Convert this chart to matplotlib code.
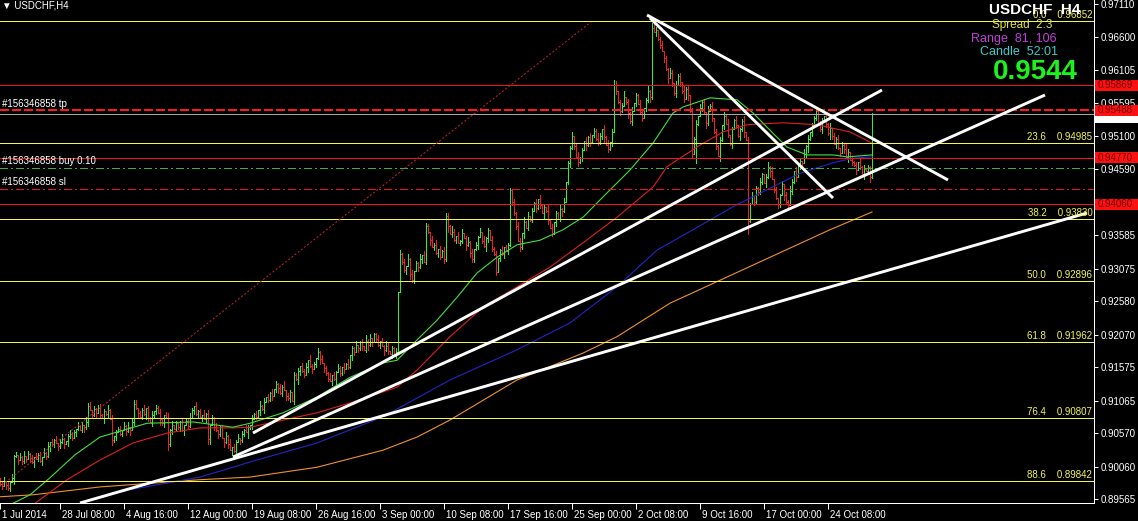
import matplotlib
matplotlib.use("Agg")
import matplotlib.pyplot as plt
from matplotlib.collections import LineCollection
from matplotlib.patches import Rectangle
from matplotlib import transforms

plt.rcParams["font.family"] = ["Liberation Sans", "DejaVu Sans"]

# ---- price data (pips above 0.9000), one H4 bar per value -------------------
BASE = 0.9
PIP = 0.0001
OPEN0 = -15
CLOSE = [
    -20, -24, -16, -22, -27, -18,
    -12, 22, 24, 16, 20, 14,
    22, 17, 25, 19, 13, 21,
    18, 24, 15, 20, 26, 22,
    38, 44, 40, 46, 42, 38,
    44, 48, 41, 45, 52, 56,
    50, 58, 64, 68, 62, 70,
    66, 74, 98, 92, 85, 94,
    88, 96, 84, 80, 90, 86,
    92, 78, 46, 52, 58, 64,
    56, 62, 68, 60, 66, 62,
    74, 102, 96, 88, 82, 92,
    86, 95, 80, 74, 84, 90,
    96, 88, 78, 72, 85, 80,
    40, 62, 70, 64, 72, 66,
    74, 62, 70, 76, 68, 80,
    92, 98, 86, 90, 82, 84,
    78, 86, 48, 70, 80, 66,
    62, 56, 66, 50, 44, 52,
    40, 32, 36, 30, 44, 50,
    46, 56, 62, 58, 66, 70,
    78, 86, 82, 92, 98, 94,
    104, 112, 108, 118, 114, 124,
    132, 126, 118, 128, 122, 114,
    110, 120, 106, 146, 140, 152,
    160, 152, 146, 158, 168, 160,
    154, 162, 172, 180, 170, 164,
    156, 148, 140, 136, 146, 140,
    150, 156, 148, 158, 154, 162,
    158, 176, 186, 180, 192, 186,
    196, 190, 184, 198, 192, 202,
    196, 208, 200, 192, 198, 190,
    184, 190, 182, 178, 186, 176,
    180, 272,
    330, 318, 305, 312, 322, 300,
    290, 304, 316, 310, 322, 328,
    318, 372, 364, 352, 340, 344,
    332, 338, 326, 334, 322, 388,
    372, 360, 364, 352, 358, 346,
    350, 362, 354, 344, 348, 332,
    322, 338, 344, 356, 364, 350,
    342, 354, 366, 352, 338, 330,
    302, 324, 336, 330, 340, 334,
    344, 428, 410, 392, 372, 350,
    340, 362, 378, 370, 388, 382,
    396, 408, 400, 414, 404, 392,
    402, 396, 382, 370, 362, 378,
    392, 384, 398, 396, 410, 440,
    468, 492, 510, 494, 478, 470,
    476, 488, 502, 496, 508, 500,
    512, 518, 506, 500, 510, 520,
    508, 496, 490, 500, 516, 588,
    578, 562, 548, 556, 570, 562,
    545, 532, 548, 560, 572, 558,
    546, 538, 552, 564, 578, 570,
    675, 668, 672, 658, 648, 640,
    628, 612, 598, 606, 590, 575,
    588, 602, 592, 578, 566, 582,
    572, 548, 482, 506, 528, 540,
    552, 562, 546, 530, 548, 556,
    538, 516, 494, 480, 504, 526,
    540, 528, 512, 498, 520, 534,
    526, 510, 520, 532, 516, 504,
    380, 406, 418, 410, 430, 424,
    440, 452, 438, 448, 462, 456,
    444, 428, 416, 406, 420, 436,
    420, 410, 404, 426, 440, 456,
    448, 466, 472, 468, 482, 494,
    506, 516, 526, 538, 548, 530,
    520, 534, 540, 528, 514, 522,
    510, 498, 506, 492, 484, 496,
    490, 478, 486, 474, 470, 466,
    458, 470, 462, 452, 460, 456,
    462, 448, 544,
]
# wick lengths beyond the body, in units of 2 pips
UP = ("21302131203140212031204130213024102312031204130212"
      "31204130212031402130124021302131024130201302142031"
      "20413021301203140213021420312041302130213140210312"
      "02130412031302140213203140213012041302130214302130"
      "31204130214031203140213021420313024130213041203120"
      "13021402132041302130312041302141302130241203130214"
      "20314021301240213021310241302013021420312041302130"
      "31204130212031402130124021302131024130201302142031"
      "2041302130120314021302142031204130213")
DN = ("12031204130212031402130214120321304120310241302130"
      "20413021301203140213021420312041302130213140210312"
      "13021402132041302130312041302141302130241203130214"
      "31204130214031203140213021420313024130213041203120"
      "02130412031302140213203140213012041302130214302130"
      "21302131203140212031204130213024102312031204130212"
      "12402130213102413020130214203120314021303120413021"
      "02142031204130213021314021031212031402132041302130"
      "3102413020130214203120314021301240213")
SPIKE_HIGH = {44: 103, 67: 107, 147: 150, 187: 210, 199: 272, 213: 377,
              223: 393, 255: 430, 307: 595, 326: 682, 327: 682, 408: 550, 436: 545}
SPIKE_LOW = {56: 39, 84: 31, 104: 40, 116: 24, 236: 318, 248: 298,
             348: 469, 374: 360, 435: 440, 436: 446}

# ---- moving averages: (bar, pips) ------------------------------------------
MA_GREEN = [(6.5, -50), (15, -37), (25, -11), (37.5, 24), (50, 51), (73.5, 72),
            (96.5, 74), (116.5, 66), (125, 72), (141.5, 88), (158.5, 112),
            (175, 142), (191.5, 164), (198.5, 168), (208.5, 199), (218.5, 229),
            (228.5, 264), (238.5, 301), (248.5, 325), (258.5, 344), (270, 351),
            (281.5, 367), (291.5, 386), (301.5, 417), (315, 458), (326.5, 499),
            (336.5, 545), (341.5, 554), (355, 568), (368.5, 565), (376.5, 545),
            (386.5, 514), (393.5, 493), (403.5, 481), (416.5, 481), (423.5, 478),
            (436, 481)]
MA_RED = [(17.5, -50), (33.5, -14), (50, 16), (66.5, 42), (83.5, 57), (100, 65),
          (116.5, 65), (125, 66), (158.5, 88), (175, 103), (198.5, 127),
          (208.5, 153), (225, 204), (241.5, 249), (258.5, 280), (275, 310),
          (291.5, 347), (308.5, 386), (326.5, 432), (333.5, 463), (350, 496),
          (361.5, 516), (373.5, 527), (391.5, 530), (408.5, 527), (425, 516),
          (436, 499)]
MA_BLUE = [(40, -50), (63.5, -30), (100, -10), (116.5, 5), (125, 13), (158.5, 42),
           (191.5, 82), (225, 138), (258.5, 184), (285, 225), (308.5, 280),
           (328.5, 336), (346.5, 367), (366.5, 402), (383.5, 428), (400, 453),
           (416.5, 469), (426.5, 476), (436, 478)]
MA_ORANGE = [(0, -40), (16.5, -37), (50, -25), (100, -14), (125, -10), (158.5, 5),
             (191.5, 31), (208.5, 51), (225, 77), (241.5, 107), (258.5, 138),
             (291.5, 179), (308.5, 204), (335, 255), (415, 367), (436, 394)]

# ---- drawn objects ----------------------------------------------------------
FIB_LEVELS = ["0.0", "23.6", "38.2", "50.0", "61.8", "76.4", "88.6"]
FIB_PRICES = [0.96852, 0.94985, 0.93830, 0.92896, 0.91962, 0.90807, 0.89842]
RED_LEVELS = [0.95869, 0.94770, 0.94060]
TP_PRICE = 0.95488
BUY_PRICE = 0.94611
SL_PRICE = 0.94298
BID = 0.9544
TRENDLINES = [((40, 0.89505), (543.5, 0.93925)),
              ((116.5, 0.90206), (522.5, 0.95723)),
              ((126.5, 0.90572), (441, 0.95799)),
              ((323.5, 0.96942), (474, 0.94428)),
              ((325, 0.96897), (416.5, 0.94153))]
FIB_DIAG = ((-10.5, 0.89505), (295.5, 0.96836))

YTICKS = [0.97110, 0.96600, 0.96105, 0.95595, 0.95100, 0.94590, 0.93585, 0.93075,
          0.92580, 0.92070, 0.91575, 0.91065, 0.90570, 0.90060, 0.89565]
XTICK_POS = [0] + [30 + 32 * k for k in range(13)]
XTICK_LABELS = ["1 Jul 2014", "28 Jul 08:00", "4 Aug 16:00", "12 Aug 00:00",
                "19 Aug 08:00", "26 Aug 16:00", "3 Sep 00:00", "10 Sep 08:00",
                "17 Sep 16:00", "25 Sep 00:00", "2 Oct 08:00", "9 Oct 16:00",
                "17 Oct 00:00", "24 Oct 08:00"]

YELLOW = "#f4f450"
RED = "#f01414"

W, H = 1138, 521
fig = plt.figure(figsize=(W / 100, H / 100), dpi=100, facecolor="black")
ax = fig.add_axes([0, 18 / H, 1094 / W, 503 / H], facecolor="black")
ax.set_xlim(0, 547)
ax.set_ylim(0.89505, 0.97171)

PX = 0.72  # one pixel in points

# bars
n = len(CLOSE)
UPS = UP.ljust(n, "1")
DNS = DN.ljust(n, "1")
opens = [OPEN0] + CLOSE[:-1]
segs_up, segs_dn = [], []
for i in range(n):
    o, c = opens[i], CLOSE[i]
    hi = SPIKE_HIGH.get(i, max(o, c) + 2 * int(UPS[i]))
    lo = SPIKE_LOW.get(i, min(o, c) - 2 * int(DNS[i]))
    P = lambda v: BASE + v * PIP
    s = [[(i, P(lo)), (i, P(hi))], [(i - 0.5, P(o)), (i, P(o))], [(i, P(c)), (i + 0.5, P(c))]]
    (segs_up if c >= o else segs_dn).extend(s)
ax.add_collection(LineCollection(segs_up, colors="#2cf42c", linewidths=PX,
                                 antialiaseds=False, zorder=2))
ax.add_collection(LineCollection(segs_dn, colors="#f42020", linewidths=PX,
                                 antialiaseds=False, zorder=2))

# moving averages
for pts, col in [(MA_ORANGE, "#f09030"), (MA_BLUE, "#2424c8"), (MA_RED, "#e01e1e"), (MA_GREEN, "#40e040")]:
    ax.plot([p[0] for p in pts], [BASE + p[1] * PIP for p in pts], color=col, lw=0.8,
            zorder=3)

# horizontal levels
hl = dict(lw=PX, antialiased=False, zorder=4)
for p in FIB_PRICES:
    ax.axhline(p, color=YELLOW, **hl)
for p in RED_LEVELS:
    ax.axhline(p, color=RED, **hl)
ax.axhline(BID, color="#a8a8a8", **hl)
ax.axhline(TP_PRICE, color="#ff1a1a", lw=1.5, ls=(0, (4, 1.5)), antialiased=False, zorder=4)
ax.axhline(SL_PRICE, color=RED, ls=(0, (8, 4, 2, 4)), **hl)
ax.axhline(BUY_PRICE, color="#3cb43c", ls=(0, (8, 4, 2, 4)), **hl)

ax.plot([FIB_DIAG[0][0], FIB_DIAG[1][0]], [FIB_DIAG[0][1], FIB_DIAG[1][1]],
        color="#c82020", lw=PX, ls=(0, (2, 2)), zorder=4)
for a, b in TRENDLINES:
    ax.plot([a[0], b[0]], [a[1], b[1]], color="white", lw=2.1, zorder=5,
            solid_capstyle="butt")

# fib labels
bl = transforms.blended_transform_factory(ax.transAxes, ax.transData)
for lvl, p in zip(FIB_LEVELS, FIB_PRICES):
    ax.text(0.9985, p + 0.00015, f"{lvl}    {p:.5f}", transform=bl, ha="right",
            va="bottom", color=YELLOW, fontsize=7, zorder=6)

# order labels
for txt, p in [("#156346858 tp", TP_PRICE), ("#156346858 buy 0.10", BUY_PRICE),
               ("#156346858 sl", SL_PRICE)]:
    ax.text(0.002, p + 0.00025, txt, transform=bl, ha="left", va="bottom",
            color="white", fontsize=7, zorder=6)

# axes styling
for s in ["top", "left"]:
    ax.spines[s].set_visible(False)
for s in ["right", "bottom"]:
    ax.spines[s].set_color("white")
    ax.spines[s].set_linewidth(PX)
ax.yaxis.tick_right()
ax.set_yticks(YTICKS)
ax.set_yticklabels([f"{v:.5f}" for v in YTICKS])
ax.tick_params(axis="y", colors="white", labelsize=7, length=3, width=PX, pad=2)
ax.set_xticks(XTICK_POS)
ax.set_xticklabels(XTICK_LABELS)
ax.tick_params(axis="x", colors="white", labelsize=7, length=4, width=PX, pad=1)
off = transforms.ScaledTranslation(2 / 100, 0, fig.dpi_scale_trans)
for lab in ax.get_xticklabels():
    lab.set_horizontalalignment("left")
    lab.set_transform(lab.get_transform() + off)

# price boxes on the right scale
def fig_y(p):
    return ax.transData.transform((0, p))[1] / H

for p, fc, tc in [(BID, "white", "black"), (TP_PRICE, "#ff1010", "#6a0000")] + \
        [(q, "#ff1010", "#6a0000") for q in RED_LEVELS]:
    yc = fig_y(p)
    if p == BID:
        yc -= 4 / H
    fig.add_artist(Rectangle((1095 / W, yc - 5.5 / H), 43 / W, 11 / H,
                             transform=fig.transFigure, facecolor=fc, edgecolor="none"))
    if p != BID:
        fig.text(1098 / W, yc, f"{p:.5f}", color=tc, fontsize=7, va="center", ha="left")

# header texts
fig.text(2 / W, 1 - 1 / H, "\u25bc USDCHF,H4", color="white", fontsize=7, va="top", ha="left")
fig.text(1080 / W, 1 - 3 / H, "USDCHF  H4", color="white", fontsize=11,
         fontweight="bold", va="top", ha="right")
fig.text(1022 / W, 1 - 25 / H, "Spread  2.3", color="#e0e040", fontsize=8.5, va="center", ha="center")
fig.text(1014 / W, 1 - 39 / H, "Range  81, 106", color="#c040d8", fontsize=9, va="center", ha="center")
fig.text(1019 / W, 1 - 52 / H, "Candle  52:01", color="#40c8c8", fontsize=9, va="center", ha="center")
fig.text(1035 / W, 1 - 72 / H, "0.9544", color="#1cf21c", fontsize=20,
         fontweight="bold", va="center", ha="center")

fig.savefig("out.png", dpi=100, facecolor="black")
